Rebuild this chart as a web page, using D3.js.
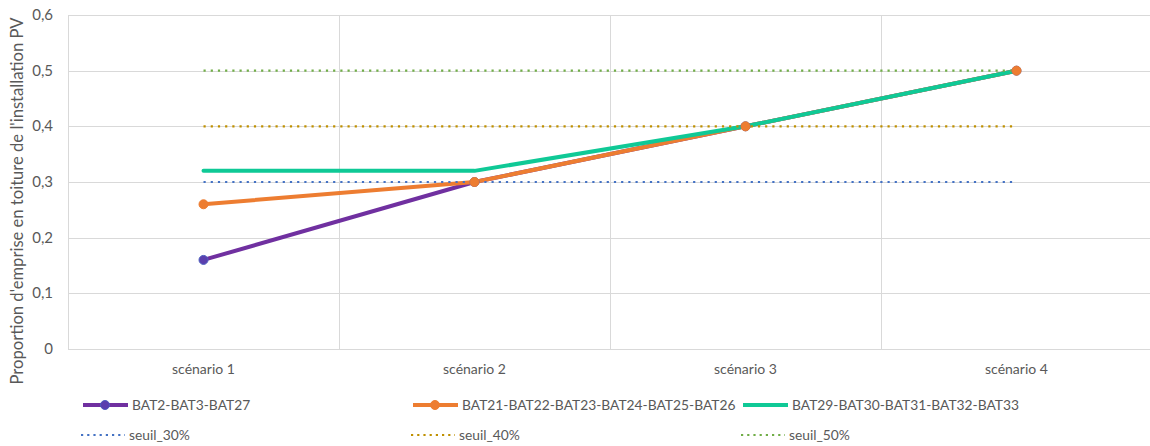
<!DOCTYPE html>
<html>
<head>
<meta charset="utf-8">
<script src="https://cdn.jsdelivr.net/npm/d3@7"></script>
<style>
  body { margin: 0; background: #fff; }
  svg { display: block; font-family: Lato, "Liberation Sans", Arial, sans-serif; }
</style>
</head>
<body>
<svg id="chart" width="1150" height="446"></svg>
<script>
// Scenario categories and series values
const categories = ["scénario 1", "scénario 2", "scénario 3", "scénario 4"];
const yTicks = [0, 0.1, 0.2, 0.3, 0.4, 0.5, 0.6];

const seriesNames = ["BAT2-BAT3-BAT27", "BAT21-BAT22-BAT23-BAT24-BAT25-BAT26", "BAT29-BAT30-BAT31-BAT32-BAT33"];
const bat2Values = [0.16, 0.30, 0.40, 0.50];
const bat21Values = [0.26, 0.30, 0.40, 0.50];
const bat29Values = [0.32, 0.32, 0.40, 0.50];

const thresholdNames = ["seuil_30%", "seuil_40%", "seuil_50%"];
const threshold30 = [0.30, 0.30, 0.30, 0.30];
const threshold40 = [0.40, 0.40, 0.40, 0.40];
const threshold50 = [0.50, 0.50, 0.50, 0.50];

const svg = d3.select("#chart");
const margin = { left: 68, right: 0, top: 15, bottom: 97 };
const W = 1152, H = 446;

const x = d3.scaleBand().domain(categories).range([margin.left, W - margin.right]).padding(0);
const y = d3.scaleLinear().domain([0, 0.6]).range([H - margin.bottom, margin.top]);
const cx = c => x(c) + x.bandwidth() / 2;
const fmt = v => d3.format(".1f")(v).replace(".", ",");

const grid = "#d9d9d9";
const textColor = "#595959";

// Horizontal gridlines
svg.append("g").selectAll("line").data(yTicks).join("line")
  .attr("x1", margin.left).attr("x2", W)
  .attr("y1", d => Math.round(y(d)) + 0.5).attr("y2", d => Math.round(y(d)) + 0.5)
  .attr("stroke", grid).attr("stroke-width", 1);

// Vertical gridlines at category boundaries
svg.append("g").selectAll("line").data(categories).join("line")
  .attr("x1", d => Math.round(x(d)) + 0.5).attr("x2", d => Math.round(x(d)) + 0.5)
  .attr("y1", y(0.6)).attr("y2", y(0))
  .attr("stroke", grid).attr("stroke-width", 1);

// Y tick labels
svg.append("g").selectAll("text").data(yTicks).join("text")
  .attr("x", 53).attr("y", d => y(d) + 5)
  .attr("text-anchor", "end").attr("font-size", 15).attr("fill", textColor)
  .text(d => d === 0 ? "0" : fmt(d));

// Category labels
svg.append("g").selectAll("text").data(categories).join("text")
  .attr("x", d => cx(d)).attr("y", 374)
  .attr("text-anchor", "middle").attr("font-size", 14).attr("fill", textColor)
  .text(d => d);

// Y axis title
svg.append("text")
  .attr("transform", "translate(23,201) rotate(-90)")
  .attr("text-anchor", "middle").attr("font-size", 16.6).attr("fill", textColor)
  .text("Proportion d'emprise en toiture de l'installation PV");

const line = d3.line().x((d, i) => cx(categories[i])).y(d => y(d));

// Threshold series (dotted)
const thresholds = [
  { name: thresholdNames[0], values: threshold30, color: "#4472c4" },
  { name: thresholdNames[1], values: threshold40, color: "#bf9000" },
  { name: thresholdNames[2], values: threshold50, color: "#70ad47" }
];

// Building series
const series = [
  { name: seriesNames[0], values: bat2Values, color: "#7030a0", fill: "#5b3fae", edge: "#4d5fc0", marker: true },
  { name: seriesNames[1], values: bat21Values, color: "#ed7d31", fill: "#ed7d31", edge: "#ed7d31", marker: true },
  { name: seriesNames[2], values: bat29Values, color: "#0fc996", marker: false }
];

series.forEach(s => {
  svg.append("path").datum(s.values).attr("d", line)
    .attr("fill", "none").attr("stroke", s.color).attr("stroke-width", 4)
    .attr("stroke-linejoin", "round").attr("stroke-linecap", "round");
});

thresholds.forEach(t => {
  svg.append("path").datum(t.values).attr("d", line)
    .attr("fill", "none").attr("stroke", t.color).attr("stroke-width", 2.2)
    .attr("stroke-dasharray", "2.2,5").attr("stroke-linecap", "butt");
});

series.filter(s => s.marker).forEach(s => {
  svg.append("g").selectAll("circle").data(s.values).join("circle")
    .attr("cx", (d, i) => cx(categories[i])).attr("cy", d => y(d))
    .attr("r", 4.5).attr("fill", s.fill)
    .attr("stroke", s.edge).attr("stroke-width", 1);
});

// Legend
const legendCols = [83, 413, 743];
const legend = svg.append("g");
series.forEach((s, i) => {
  const lx = legendCols[i], ly = 405;
  legend.append("line").attr("x1", lx).attr("x2", lx + 45).attr("y1", ly).attr("y2", ly)
    .attr("stroke", s.color).attr("stroke-width", 4);
  if (s.marker) {
    legend.append("circle").attr("cx", lx + 22).attr("cy", ly).attr("r", 4.5)
      .attr("fill", s.fill).attr("stroke", s.edge);
  }
  legend.append("text").attr("x", lx + 49).attr("y", ly + 5)
    .attr("font-size", 13.8).attr("fill", textColor).text(s.name);
});
thresholds.forEach((t, i) => {
  const lx = legendCols[i] - 2, ly = 435;
  legend.append("line").attr("x1", lx).attr("x2", lx + 44).attr("y1", ly).attr("y2", ly)
    .attr("stroke", t.color).attr("stroke-width", 2.2).attr("stroke-dasharray", "2.2,4");
  legend.append("text").attr("x", lx + 48).attr("y", ly + 5)
    .attr("font-size", 13.8).attr("fill", textColor).text(t.name);
});
</script>
</body>
</html>
